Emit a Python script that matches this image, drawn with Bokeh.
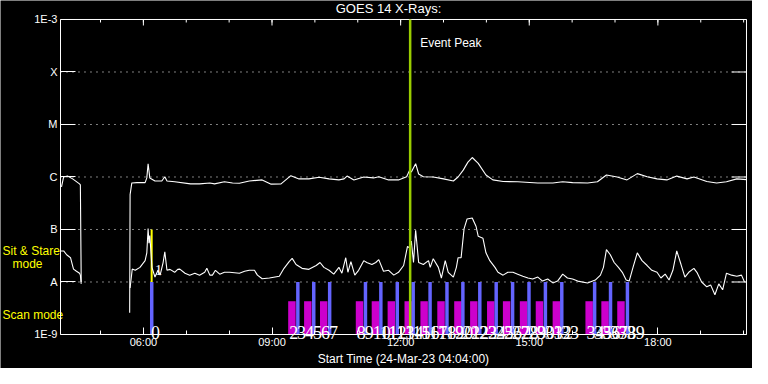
import math
from bokeh.plotting import figure
from bokeh.models import FixedTicker, Range1d
from bokeh.embed import file_html
from bokeh.resources import INLINE
from bokeh.core.properties import value

NaN = float("nan")

# ---- axis definitions -------------------------------------------------------
T_START = 4.0667          # 04:04 UT (hours)
T_END = 20.0667           # 20:04 UT
level_values = [1e-9, 1e-8, 1e-7, 1e-6, 1e-5, 1e-4, 1e-3]
level_labels = ["1E-9", "A", "B", "C", "M", "X", "1E-3"]
major_hours = [6, 9, 12, 15, 18]
major_labels = ["06:00", "09:00", "12:00", "15:00", "18:00"]
minor_hours = [5, 6, 7, 8, 9, 10, 11, 12, 13, 14, 15, 16, 17, 18, 19, 20]
title_text = "GOES 14 X-Rays:"
x_axis_title = "Start Time (24-Mar-23 04:04:00)"

# canvas margins around the data box (the whole canvas is the plot frame)
X_LEFT = T_START - 1.3994
X_RIGHT = T_END + 0.14
Y_BOTTOM = 2.25e-10
Y_TOP = 2.30e-3

# ---- GOES long channel (1-8 A), W/m^2 ----------------------------------------
long_t = [4.09, 4.14, 4.23, 4.35, 4.51, 4.53, 4.55, NaN,
          5.68, 5.69, 5.73, 5.85, 6.04, 6.08, 6.11, 6.15, 6.27, 6.43, 6.50, 6.55,
          6.73, 7.10, 7.31, 7.55, 7.66, 7.89, 8.08, 8.24, 8.47, 8.77, 8.98, 9.21,
          9.44, 9.63, 9.86, 10.10, 10.33, 10.56, 10.68, 10.75, 10.91, 11.14, 11.37,
          11.49, 11.72, 11.95, 12.14, 12.21, 12.25, 12.35, 12.42, 12.53, 12.76,
          13.00, 13.23, 13.34, 13.46, 13.57, 13.67, 13.81, 13.99, 14.15, 14.39,
          14.73, 15.20, 15.55, 15.78, 16.01, 16.36, 16.59, 16.80, 17.05, 17.28,
          17.52, 17.75, 17.98, 18.21, 18.44, 18.68, 18.84, 19.14, 19.37, 19.60,
          19.84, 20.07]
long_flux = [6.5e-7, 1.0e-6, 1.04e-6, 9.2e-7, 7.4e-7, 7.1e-7, 1.0e-8, NaN,
             2.6e-9, 4.6e-7, 7.7e-7, 7.8e-7, 7.8e-7, 9.6e-7, 1.79e-6, 9.6e-7, 8.4e-7, 8.4e-7, 1.01e-6, 8.4e-7,
             8.1e-7, 7.4e-7, 7.4e-7, 7.7e-7, 7.4e-7, 8.1e-7, 7.7e-7, 7.6e-7, 8.4e-7, 8.8e-7, 7.3e-7, 7.4e-7,
             1.06e-6, 9.2e-7, 9.2e-7, 9.9e-7, 9.2e-7, 8.8e-7, 9.2e-7, 1.04e-6, 8.8e-7, 1.0e-6, 9.6e-7,
             1.01e-6, 8.8e-7, 8.8e-7, 1.01e-6, 1.35e-6, 1.24e-6, 1.79e-6, 1.14e-6, 1.01e-6, 1.0e-6,
             9.2e-7, 8.4e-7, 1.0e-6, 1.35e-6, 1.92e-6, 2.35e-6, 1.82e-6, 1.09e-6, 8.8e-7, 8.2e-7,
             8.1e-7, 7.7e-7, 7.7e-7, 8.1e-7, 7.8e-7, 7.7e-7, 8.1e-7, 1.09e-6, 1.0e-6, 8.8e-7,
             1.16e-6, 1.01e-6, 9.2e-7, 8.8e-7, 1.04e-6, 9.2e-7, 1.0e-6, 8.2e-7, 7.7e-7, 8.1e-7,
             9.2e-7, 8.9e-7]

# ---- GOES short channel (0.5-4 A), W/m^2 -------------------------------------
short_t = [4.07, 4.14, 4.21, 4.30, 4.37, 4.44, 4.51, 4.53, 4.55, NaN,
           5.69, 5.74, 5.81, 5.92, 6.04, 6.08, 6.11, 6.13, 6.15, 6.20, 6.27, 6.34, 6.39,
           6.46, 6.50, 6.55, 6.62, 6.73, 6.80, 6.85, 6.97, 7.08, 7.20, 7.31, 7.43, 7.48,
           7.55, 7.61, 7.68, 7.78, 7.89, 8.01, 8.24, 8.36, 8.47, 8.59, 8.66, 8.77, 8.94,
           9.17, 9.28, 9.40, 9.47, 9.56, 9.70, 9.86, 10.03, 10.12, 10.21, 10.33, 10.44,
           10.56, 10.63, 10.72, 10.77, 10.84, 10.93, 11.02, 11.14, 11.21, 11.33, 11.42,
           11.49, 11.60, 11.72, 11.84, 11.95, 12.07, 12.16, 12.21, 12.25, 12.30, 12.35,
           12.42, 12.53, 12.65, 12.69, 12.76, 12.88, 12.95, 13.04, 13.11, 13.23, 13.30,
           13.34, 13.41, 13.48, 13.55, 13.67, 13.76, 13.81, 13.92, 13.99, 14.08, 14.20,
           14.27, 14.39, 14.50, 14.62, 14.73, 14.85, 14.97, 15.08, 15.20, 15.31, 15.43,
           15.55, 15.66, 15.78, 15.89, 16.01, 16.13, 16.36, 16.54, 16.66, 16.73, 16.80,
           16.89, 16.98, 17.08, 17.17, 17.26, 17.33, 17.42, 17.52, 17.63, 17.75, 17.86,
           17.98, 18.07, 18.17, 18.26, 18.35, 18.44, 18.54, 18.63, 18.72, 18.84, 18.91,
           19.02, 19.14, 19.23, 19.33, 19.42, 19.51, 19.60, 19.72, 19.84, 19.95, 20.02]
short_flux = [3.9e-8, 3.9e-8, 3.3e-8, 2.9e-8, 1.76e-8, 1.6e-8, 1.47e-8, 1.35e-8, 9.2e-9, NaN,
              7.7e-9, 1.76e-8, 1.67e-8, 1.9e-8, 2.55e-8, 3.6e-8, 1.04e-7, 5.5e-8, 7.7e-8, 1.9e-8, 1.24e-8, 1.67e-8, 1.35e-8,
              2.35e-8, 3.75e-8, 1.67e-8, 1.74e-8, 1.53e-8, 1.74e-8, 1.76e-8, 1.47e-8, 1.35e-8, 1.47e-8, 1.35e-8, 1.53e-8, 1.82e-8,
              1.35e-8, 1.35e-8, 1.67e-8, 1.41e-8, 1.53e-8, 1.53e-8, 1.47e-8, 1.6e-8, 1.67e-8, 1.67e-8, 1.35e-8, 1.15e-8, 1.19e-8,
              1.29e-8, 1.82e-8, 2.45e-8, 2.82e-8, 2.15e-8, 1.82e-8, 1.74e-8, 2.06e-8, 2.35e-8, 1.9e-8, 1.67e-8, 1.41e-8,
              1.9e-8, 1.47e-8, 2.9e-8, 1.53e-8, 2.45e-8, 1.35e-8, 1.67e-8, 2.55e-8, 2.35e-8, 2.15e-8, 2.35e-8,
              2.67e-8, 1.6e-8, 1.67e-8, 1.35e-8, 1.53e-8, 2.06e-8, 4.78e-8, 4.45e-8, 6.0e-8, 2.35e-8, 9.7e-8,
              2.35e-8, 2.15e-8, 2.55e-8, 1.9e-8, 2.78e-8, 1.9e-8, 1.19e-8, 2.55e-8, 1.53e-8, 1.24e-8, 1.9e-8,
              2.9e-8, 2.9e-8, 1.04e-7, 1.59e-7, 1.66e-7, 1.14e-7, 7.4e-8, 6.8e-8, 3.6e-8, 2.55e-8, 1.9e-8,
              1.53e-8, 1.35e-8, 1.53e-8, 1.53e-8, 1.41e-8, 1.29e-8, 1.19e-8, 1.14e-8, 1.24e-8, 1.04e-8, 1.14e-8,
              9.6e-9, 1.04e-8, 1.41e-8, 1.19e-8, 1.14e-8, 1.04e-8, 9.6e-9, 1.09e-8, 1.35e-8, 1.9e-8, 4.14e-8,
              3.3e-8, 2.35e-8, 1.9e-8, 1.53e-8, 1.09e-8, 1.04e-8, 1.9e-8, 3.6e-8, 2.55e-8, 2.06e-8, 1.67e-8,
              1.53e-8, 1.19e-8, 1.41e-8, 1.09e-8, 1.67e-8, 3.9e-8, 2.15e-8, 1.24e-8, 1.53e-8, 1.82e-8, 1.53e-8,
              1.0e-8, 8.1e-9, 8.8e-9, 5.7e-9, 9.2e-9, 7.1e-9, 1.47e-8, 1.35e-8, 1.29e-8, 1.35e-8, 1.0e-8]

# ---- observation markers ----------------------------------------------------
mag_start = [9.377, 9.748, 10.119, 10.954, 11.325, 11.696, 12.090, 12.461, 12.855,
             13.249, 13.620, 14.015, 14.385, 14.780, 15.151, 15.545, 16.310, 16.681, 17.052]
mag_labels = ["2", "4", "6", "8", "10", "12", "14", "16", "18", "20", "22", "24",
              "26", "28", "30", "32", "34", "36", "38"]
scan_start = [6.154, 9.562, 9.933, 10.304, 11.139, 11.498, 11.881, 12.252, 12.646,
              13.040, 13.411, 13.806, 14.188, 14.571, 14.953, 15.336, 15.718, 16.484,
              16.855, 17.249]
scan_labels = ["0", "3", "5", "7", "9", "11", "13", "15", "17", "19", "21", "23",
               "25", "27", "29", "31", "33", "35", "37", "39"]
sitstare_time = [6.193]
sitstare_labels = ["1"]
event_peak = 12.222
MAG_DUR = 0.174           # hours
SCAN_DUR = 0.081
MAG_TOP = 4.3e-9

mode_labels = ["Sit & Stare", "mode", "Scan mode"]
mode_label_y = [3.9e-8, 2.25e-8, 2.35e-9]
mode_label_dx = [2, 12, 2]   # px from the left edge of the canvas

FONT = "Liberation Sans"
NARROW = "Liberation Sans Narrow"

p = figure(width=752, height=368, x_range=Range1d(X_LEFT, X_RIGHT),
           y_range=Range1d(Y_BOTTOM, Y_TOP), y_axis_type="log",
           output_backend="svg", toolbar_location=None,
           background_fill_color="black", border_fill_color="black",
           min_border_left=0, min_border_right=0, min_border_top=0,
           min_border_bottom=0)
p.outline_line_color = None
p.xgrid.visible = False
p.ygrid.visible = False

# left axis drawn at the start time, labels in the gutter
ly = p.yaxis[0]
ly.fixed_location = T_START
ly.bounds = (level_values[0], level_values[-1])
ly.ticker = FixedTicker(ticks=level_values)
ly.major_label_overrides = dict(zip(level_values, level_labels))
ly.axis_line_color = "white"
ly.major_tick_line_color = "white"
ly.minor_tick_line_color = None
ly.major_tick_in = 15
ly.major_tick_out = 0
ly.major_label_standoff = 3
ly.major_label_text_color = "white"
ly.major_label_text_font = FONT
ly.major_label_text_font_size = "11px"

# bottom axis drawn at the bottom of the box
bx = p.xaxis[0]
bx.fixed_location = level_values[0]
bx.bounds = (T_START, T_END)
bx.ticker = FixedTicker(ticks=major_hours, minor_ticks=minor_hours)
bx.major_label_overrides = dict(zip(major_hours, major_labels))
bx.axis_line_color = "white"
bx.major_tick_line_color = "white"
bx.minor_tick_line_color = "white"
bx.major_tick_in = 7
bx.major_tick_out = 0
bx.minor_tick_in = 4
bx.minor_tick_out = 0
bx.major_label_standoff = 2
bx.major_label_text_color = "white"
bx.major_label_text_font = FONT
bx.major_label_text_font_size = "11px"
bx.axis_label = x_axis_title
bx.axis_label_text_color = "white"
bx.axis_label_text_font = FONT
bx.axis_label_text_font_size = "12px"
bx.axis_label_text_font_style = "normal"
bx.axis_label_standoff = 0

# title
p.text(x=[(X_LEFT + X_RIGHT) / 2], y=[1.6e-3], text=[title_text], x_offset=12,
       text_color="white", text_font=value(FONT), text_font_size="13px",
       text_align="center", text_baseline="middle")

# dotted class levels
p.segment(x0=T_START, y0=level_values[1:-1], x1=T_END, y1=level_values[1:-1],
          line_color="white", line_width=1, line_dash="1 5")

# top and right edges of the box
p.segment(x0=[T_START, T_END], y0=[level_values[-1], level_values[0]],
          x1=[T_END, T_END], y1=[level_values[-1], level_values[-1]],
          line_color="white", line_width=1)

# inward ticks on the right and top edges
p.ray(x=[T_END] * len(level_values), y=level_values, length=15, length_units="screen",
      angle=math.pi, line_color="white", line_width=1)
p.ray(x=major_hours, y=[level_values[-1]] * len(major_hours), length=6,
      length_units="screen", angle=-math.pi / 2, line_color="white", line_width=1)
p.ray(x=minor_hours, y=[level_values[-1]] * len(minor_hours), length=3,
      length_units="screen", angle=-math.pi / 2, line_color="white", line_width=1)

# observation bars
p.quad(left=mag_start, right=[s + MAG_DUR for s in mag_start],
       bottom=level_values[0], top=MAG_TOP, fill_color="#cc00cc", line_color=None)
p.quad(left=scan_start, right=[s + SCAN_DUR for s in scan_start],
       bottom=level_values[0], top=level_values[1], fill_color="#6464ff", line_color=None)
p.segment(x0=sitstare_time, y0=level_values[1], x1=sitstare_time, y1=level_values[2],
          line_color="#ffff00", line_width=2)

# light curves
p.line(long_t, long_flux, line_color="white", line_width=1.1)
p.line(short_t, short_flux, line_color="white", line_width=1.1)

# event peak
p.segment(x0=[event_peak], y0=level_values[0], x1=[event_peak], y1=level_values[-1],
          line_color="#99cc00", line_width=2.5)
p.text(x=[event_peak], y=[3.6e-4], text=["Event Peak"], x_offset=10,
       text_color="white", text_font=value(FONT), text_font_size="12px",
       text_baseline="middle")

# observation numbers
p.text(x=mag_start + scan_start, y=1.1e-9, text=mag_labels + scan_labels,
       text_color="white", text_font=value(NARROW), text_font_size="18px",
       text_baseline="alphabetic", x_offset=1)
p.text(x=sitstare_time, y=1.67e-8, text=sitstare_labels, text_color="white",
       text_font=value(NARROW), text_font_size="15px", text_baseline="alphabetic",
       x_offset=3)

# mode labels (yellow) in the left gutter
p.text(x=X_LEFT, y=mode_label_y, text=mode_labels, x_offset=mode_label_dx,
       text_color="#ffff00", text_font=value(FONT), text_font_size="12px",
       text_baseline="middle")

open("out.html", "w").write(file_html(p, INLINE))
